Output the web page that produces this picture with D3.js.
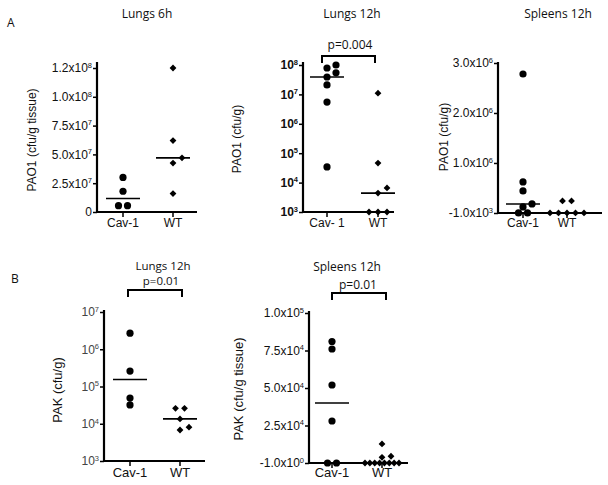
<!DOCTYPE html>
<html>
<head>
<meta charset="utf-8">
<script src="https://cdn.jsdelivr.net/npm/d3@7"></script>
<style>
  html, body { margin: 0; padding: 0; background: #fff; }
  svg { display: block; }
</style>
</head>
<body>
<script>
// ---------------- DATA ----------------
const categories = ["Cav-1", "WT"];
const categoriesLungs12h = ["Cav- 1", "WT"];

// A: PAO1
const lungs6hCav = [3.0e7, 1.8e7, 5.5e6, 5.5e6];
const lungs6hWT  = [1.25e8, 6.2e7, 4.7e7, 4.25e7, 1.6e7];

const lungs12hCav = [1.0e8, 7.9e7, 5.4e7, 3.9e7, 2.1e7, 5.5e6, 3.4e4];
const lungs12hWT  = [1.1e7, 4.6e4, 6.6e3, 4.4e3, 1e3, 1e3, 1e3];

const spleens12hCav = [2.78e6, 6.2e5, 4.4e5, 1.8e5, 1.2e5, 0, 0];
const spleens12hWT  = [2.4e5, 2.4e5, 0, 0, 0, 0, 0];

// B: PAK
const pakLungsCav = [2.7e6, 2.6e5, 4.9e4, 3.2e4];
const pakLungsWT  = [2.6e4, 2.6e4, 1.35e4, 8.1e3, 6.8e3];

const pakSpleensCav = [8.1e4, 7.6e4, 5.2e4, 2.8e4, 0, 0];
const pakSpleensWT  = [1.27e4, 4.5e3, 3.8e3, 0, 0, 0, 0, 0, 0, 0, 0];

// tick values and labels ("base^superscript")
const ticksLungs6h = [0, 2.5e7, 5e7, 7.5e7, 1e8, 1.25e8];
const labelsLungs6h = ["0", "2.5x10^7", "5.0x10^7", "7.5x10^7", "1.0x10^8", "1.2x10^8"];
const ticksLog8 = [1e3, 1e4, 1e5, 1e6, 1e7, 1e8];
const labelsLog8 = ["10^3", "10^4", "10^5", "10^6", "10^7", "10^8"];
const ticksSpleensA = [-1e3, 1e6, 2e6, 3e6];
const labelsSpleensA = ["-1.0x10^3", "1.0x10^6", "2.0x10^6", "3.0x10^6"];
const ticksLog7 = [1e3, 1e4, 1e5, 1e6, 1e7];
const labelsLog7 = ["10^3", "10^4", "10^5", "10^6", "10^7"];
const ticksSpleensB = [-1, 2.5e4, 5e4, 7.5e4, 1e5];
const labelsSpleensB = ["-1.0x10^0", "2.5x10^4", "5.0x10^4", "7.5x10^4", "1.0x10^5"];

// ---------------- DRAW ----------------
const W = 608, H = 485;
const svg = d3.select("body").append("svg").attr("width", W).attr("height", H);
svg.append("rect").attr("width", W).attr("height", H).attr("fill", "#fff");

const AX_FONT = "'Liberation Sans', Arial, sans-serif";
const TITLE_FONT = "'Open Sans', 'DejaVu Sans', sans-serif";

function layout(values, y, cx) {
  const sorted = values.slice().sort((a, b) => a - b);
  const placed = [];
  const done = new Set();
  sorted.forEach(v => {
    if (done.has(v)) return;
    const n = sorted.filter(u => u === v).length;
    if (n > 1) {
      done.add(v);
      const step = Math.min(9, 34 / (n - 1));
      for (let i = 0; i < n; i++) placed.push({ v, x: cx + (i - (n - 1) / 2) * step, y: y(v) });
    }
  });
  sorted.forEach(v => {
    if (done.has(v)) return;
    const yy = y(v);
    for (const k of [0, 1, -1, 2, -2, 3, -3]) {
      const xx = cx + k * 9;
      const hit = placed.some(p => Math.hypot(p.x - xx, p.y - yy) < 6);
      if (!hit) { placed.push({ v, x: xx, y: yy }); break; }
    }
  });
  return placed;
}

function diamond(r) { return `M0,${-r}L${r},0L0,${r}L${-r},0Z`; }

function panel(cfg) {
  const g = svg.append("g");
  const y = (cfg.log ? d3.scaleLog() : d3.scaleLinear()).domain(cfg.domain).range(cfg.yRange);
  const x = d3.scalePoint().domain(cfg.cats).range(cfg.xRange);
  const yBase = cfg.yRange[0];

  const axis = d3.axisLeft(y).tickValues(cfg.ticks).tickSize(4).tickPadding(1).tickFormat(() => "");
  const axg = g.append("g").attr("transform", `translate(${cfg.axX},0)`).call(axis);
  axg.select(".domain").remove();
  axg.selectAll(".tick line").attr("stroke", "#000").attr("stroke-width", 1.5);
  axg.selectAll(".tick text")
    .attr("font-family", AX_FONT)
    .attr("font-size", cfg.tickSize || 12)
    .attr("font-weight", cfg.tickBold ? "bold" : "normal")
    .attr("fill", cfg.tickColor || "#111")
    .each(function (d, i) {
      const [base, sup] = cfg.tickLabels[i].split("^");
      const t = d3.select(this);
      t.text(null);
      t.append("tspan").text(base);
      if (sup) t.append("tspan").attr("dy", -4.5).attr("font-size", 7.5).text(sup);
    });

  g.append("line").attr("x1", cfg.axX).attr("x2", cfg.axX).attr("y1", yBase + 1).attr("y2", cfg.yTop)
    .attr("stroke", "#000").attr("stroke-width", 2.2);
  g.append("line").attr("x1", cfg.axX - 1).attr("x2", cfg.xEnd).attr("y1", yBase).attr("y2", yBase)
    .attr("stroke", "#000").attr("stroke-width", 2.2);

  cfg.cats.forEach(c => {
    g.append("line").attr("x1", x(c)).attr("x2", x(c)).attr("y1", yBase).attr("y2", yBase + 5)
      .attr("stroke", "#000").attr("stroke-width", 1.5);
    g.append("text").attr("x", x(c)).attr("y", cfg.catY).attr("text-anchor", "middle")
      .attr("font-family", AX_FONT).attr("font-size", cfg.catSize).attr("fill", "#111").text(c);
  });

  cfg.series.forEach((vals, si) => {
    const cx = x(cfg.cats[si]);
    const pts = layout(vals, y, cx);
    pts.forEach(p => {
      if (si === 0) {
        g.append("circle").attr("cx", p.x).attr("cy", p.y).attr("r", 3.6).attr("fill", "#000");
      } else {
        g.append("path").attr("d", diamond(3.4)).attr("transform", `translate(${p.x},${p.y})`).attr("fill", "#000");
      }
    });
    const med = d3.median(vals);
    g.append("line").attr("x1", cx - 17).attr("x2", cx + 17).attr("y1", y(med)).attr("y2", y(med))
      .attr("stroke", "#000").attr("stroke-width", 1.6);
  });

  g.append("text").attr("transform", `translate(${cfg.lab[0]},${cfg.lab[1]}) rotate(-90)`)
    .attr("text-anchor", "middle").attr("dominant-baseline", "central")
    .attr("font-family", AX_FONT).attr("font-size", cfg.labSize).attr("fill", "#111").text(cfg.label);

  cfg.titles.forEach(t => {
    g.append("text").attr("x", t[1]).attr("y", t[2]).attr("text-anchor", "middle")
      .attr("font-family", TITLE_FONT).attr("font-size", t[3] || 12).attr("fill", "#111").text(t[0]);
  });

  if (cfg.bracket) {
    const [bx0, bx1, by0, by1] = cfg.bracket;
    g.append("path").attr("d", `M${bx0},${by1}V${by0}H${bx1}V${by1}`)
      .attr("fill", "none").attr("stroke", "#000").attr("stroke-width", 2);
  }
}

panel({
  cats: categories, series: [lungs6hCav, lungs6hWT],
  domain: [0, 1.25e8], yRange: [212, 68], yTop: 62, log: false,
  xRange: [123, 173], axX: 97, xEnd: 197,
  ticks: ticksLungs6h, tickLabels: labelsLungs6h,
  catY: 227, catSize: 12,
  label: "PAO1 (cfu/g tissue)", lab: [32, 140], labSize: 12,
  titles: [["Lungs 6h", 147, 18]]
});

panel({
  cats: categoriesLungs12h, series: [lungs12hCav, lungs12hWT],
  domain: [1e3, 1e8], yRange: [212, 65], yTop: 62, log: true,
  xRange: [327, 378], axX: 303, xEnd: 394,
  ticks: ticksLog8, tickLabels: labelsLog8, tickBold: true, tickSize: 12,
  catY: 227, catSize: 12,
  label: "PAO1 (cfu/g)", lab: [237, 139], labSize: 12,
  titles: [["Lungs 12h", 352, 18], ["p=0.004", 350, 49]],
  bracket: [322, 375, 56, 63]
});

panel({
  cats: categories, series: [spleens12hCav, spleens12hWT],
  domain: [-1e3, 3e6], yRange: [213, 63], yTop: 62, log: false,
  xRange: [523, 567], axX: 498, xEnd: 602,
  ticks: ticksSpleensA, tickLabels: labelsSpleensA,
  catY: 227, catSize: 12,
  label: "PAO1 (cfu/g)", lab: [444, 137], labSize: 12,
  titles: [["Spleens 12h", 558, 18]]
});

panel({
  cats: categories, series: [pakLungsCav, pakLungsWT],
  domain: [1e3, 1e7], yRange: [461, 312], yTop: 310, log: true,
  xRange: [130, 180], axX: 104, xEnd: 205,
  ticks: ticksLog7, tickLabels: labelsLog7, tickColor: "#444", tickSize: 12,
  catY: 477, catSize: 13,
  label: "PAK (cfu/g)", lab: [57, 390], labSize: 13,
  titles: [["Lungs 12h", 163, 270, 11.5], ["p=0.01", 161, 285, 11.5]],
  bracket: [128, 182, 290, 297]
});

panel({
  cats: categories, series: [pakSpleensCav, pakSpleensWT],
  domain: [-1, 1e5], yRange: [463, 313], yTop: 311, log: false,
  xRange: [332, 382], axX: 309, xEnd: 408,
  ticks: ticksSpleensB, tickLabels: labelsSpleensB, tickSize: 12,
  catY: 477, catSize: 13,
  label: "PAK (cfu/g tissue)", lab: [238, 389], labSize: 13,
  titles: [["Spleens 12h", 347, 271], ["p=0.01", 358, 289]],
  bracket: [332, 386, 293, 300]
});

svg.append("text").attr("x", 7).attr("y", 27).attr("font-family", TITLE_FONT).attr("font-size", 12).attr("fill", "#111").text("A");
svg.append("text").attr("x", 11).attr("y", 283).attr("font-family", TITLE_FONT).attr("font-size", 12).attr("fill", "#111").text("B");
</script>
</body>
</html>
